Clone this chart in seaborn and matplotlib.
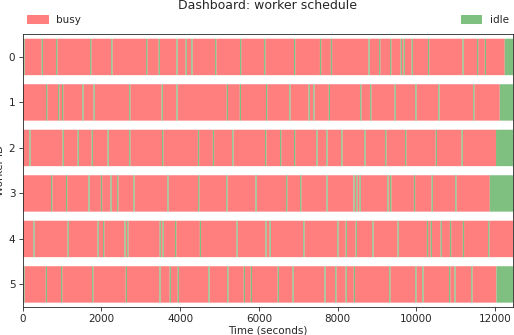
import pandas as pd
import seaborn as sns
import matplotlib
matplotlib.use('Agg')
import matplotlib.pyplot as plt
from matplotlib.patches import Patch

# worker ids and the moments each worker went idle for a short while
workers = [0, 1, 2, 3, 4, 5]
idle_starts = [
    [20, 485, 850, 1713, 2250, 3135, 3456, 3904, 4139, 4283, 4887, 5520, 6131, 6891, 7549, 7827,
     8781, 9051, 9329, 9600, 9675, 9878, 10292, 11169, 11537, 11736],
    [595, 900, 1000, 1515, 1800, 2705, 3530, 3904, 5185, 5515, 6180, 6770, 7262, 7380, 7775, 8570,
     8823, 9445, 9970, 10553, 11440],
    [172, 1017, 1397, 1755, 2157, 2705, 3540, 4451, 4831, 5322, 6155, 6535, 6890, 7457, 7710, 8090,
     8675, 9204, 9710, 10490, 11145],
    [722, 1101, 1670, 1988, 2230, 2400, 2810, 3676, 4455, 5170, 5913, 6689, 7045, 7715, 8400, 8470,
     8555, 9260, 9330, 9935, 10385, 10985],
    [274, 1143, 1903, 2042, 2585, 2655, 3480, 3555, 3870, 4500, 5430, 6165, 6270, 7125, 7990, 8203,
     8457, 8878, 9520, 10265, 10363, 10615, 10850, 11178, 11819],
    [20, 590, 975, 1765, 2620, 3473, 3735, 3938, 4714, 5195, 5617, 5794, 6477, 6853, 7662, 7937,
     8200, 8410, 9308, 9970, 10148, 10827, 10962, 11390],
]
idle_len = 30          # seconds of each short idle spell
busy_end = [12241, 12115, 12020, 11862, 12450, 12030]
schedule_end = 12450

# build busy / idle segments
rows = []
for w, gaps, end in zip(workers, idle_starts, busy_end):
    t = 0
    for g in gaps:
        rows.append({'worker': w, 'start': t, 'duration': g - t, 'state': 'busy'})
        rows.append({'worker': w, 'start': g, 'duration': idle_len, 'state': 'idle'})
        t = g + idle_len
    rows.append({'worker': w, 'start': t, 'duration': end - t, 'state': 'busy'})
    if end < schedule_end:
        rows.append({'worker': w, 'start': end, 'duration': schedule_end - end, 'state': 'idle'})
df = pd.DataFrame(rows)

sns.set_style('ticks')
plt.rcParams['font.size'] = 10
colors = {'busy': '#ff7f7f', 'idle': '#7fbf7f'}

fig, ax = plt.subplots(figsize=(514 / 75, 335 / 75), dpi=75)
fig.subplots_adjust(left=0.044, right=0.998, top=0.898, bottom=0.083)

for state in ['busy', 'idle']:
    part = df[df['state'] == state]
    ax.barh(part['worker'], part['duration'], left=part['start'], height=0.8,
            color=colors[state], linewidth=0, snap=False)

ax.set_xlim(0, schedule_end)
ax.set_ylim(5.5, -0.5)
ax.set_yticks(workers)
ax.set_xlabel('Time (seconds)', labelpad=1)
ax.set_ylabel('Worker ID')
ax.set_title('Dashboard: worker schedule', pad=24)

handles = [Patch(color=colors['busy'], label='busy'), Patch(color=colors['idle'], label='idle')]
ax.legend(handles=handles, bbox_to_anchor=(0, 1.02, 1, 0.102), loc='lower left', ncol=2,
          mode='expand', borderaxespad=0, frameon=False)

plt.savefig('out.png', dpi=75)
